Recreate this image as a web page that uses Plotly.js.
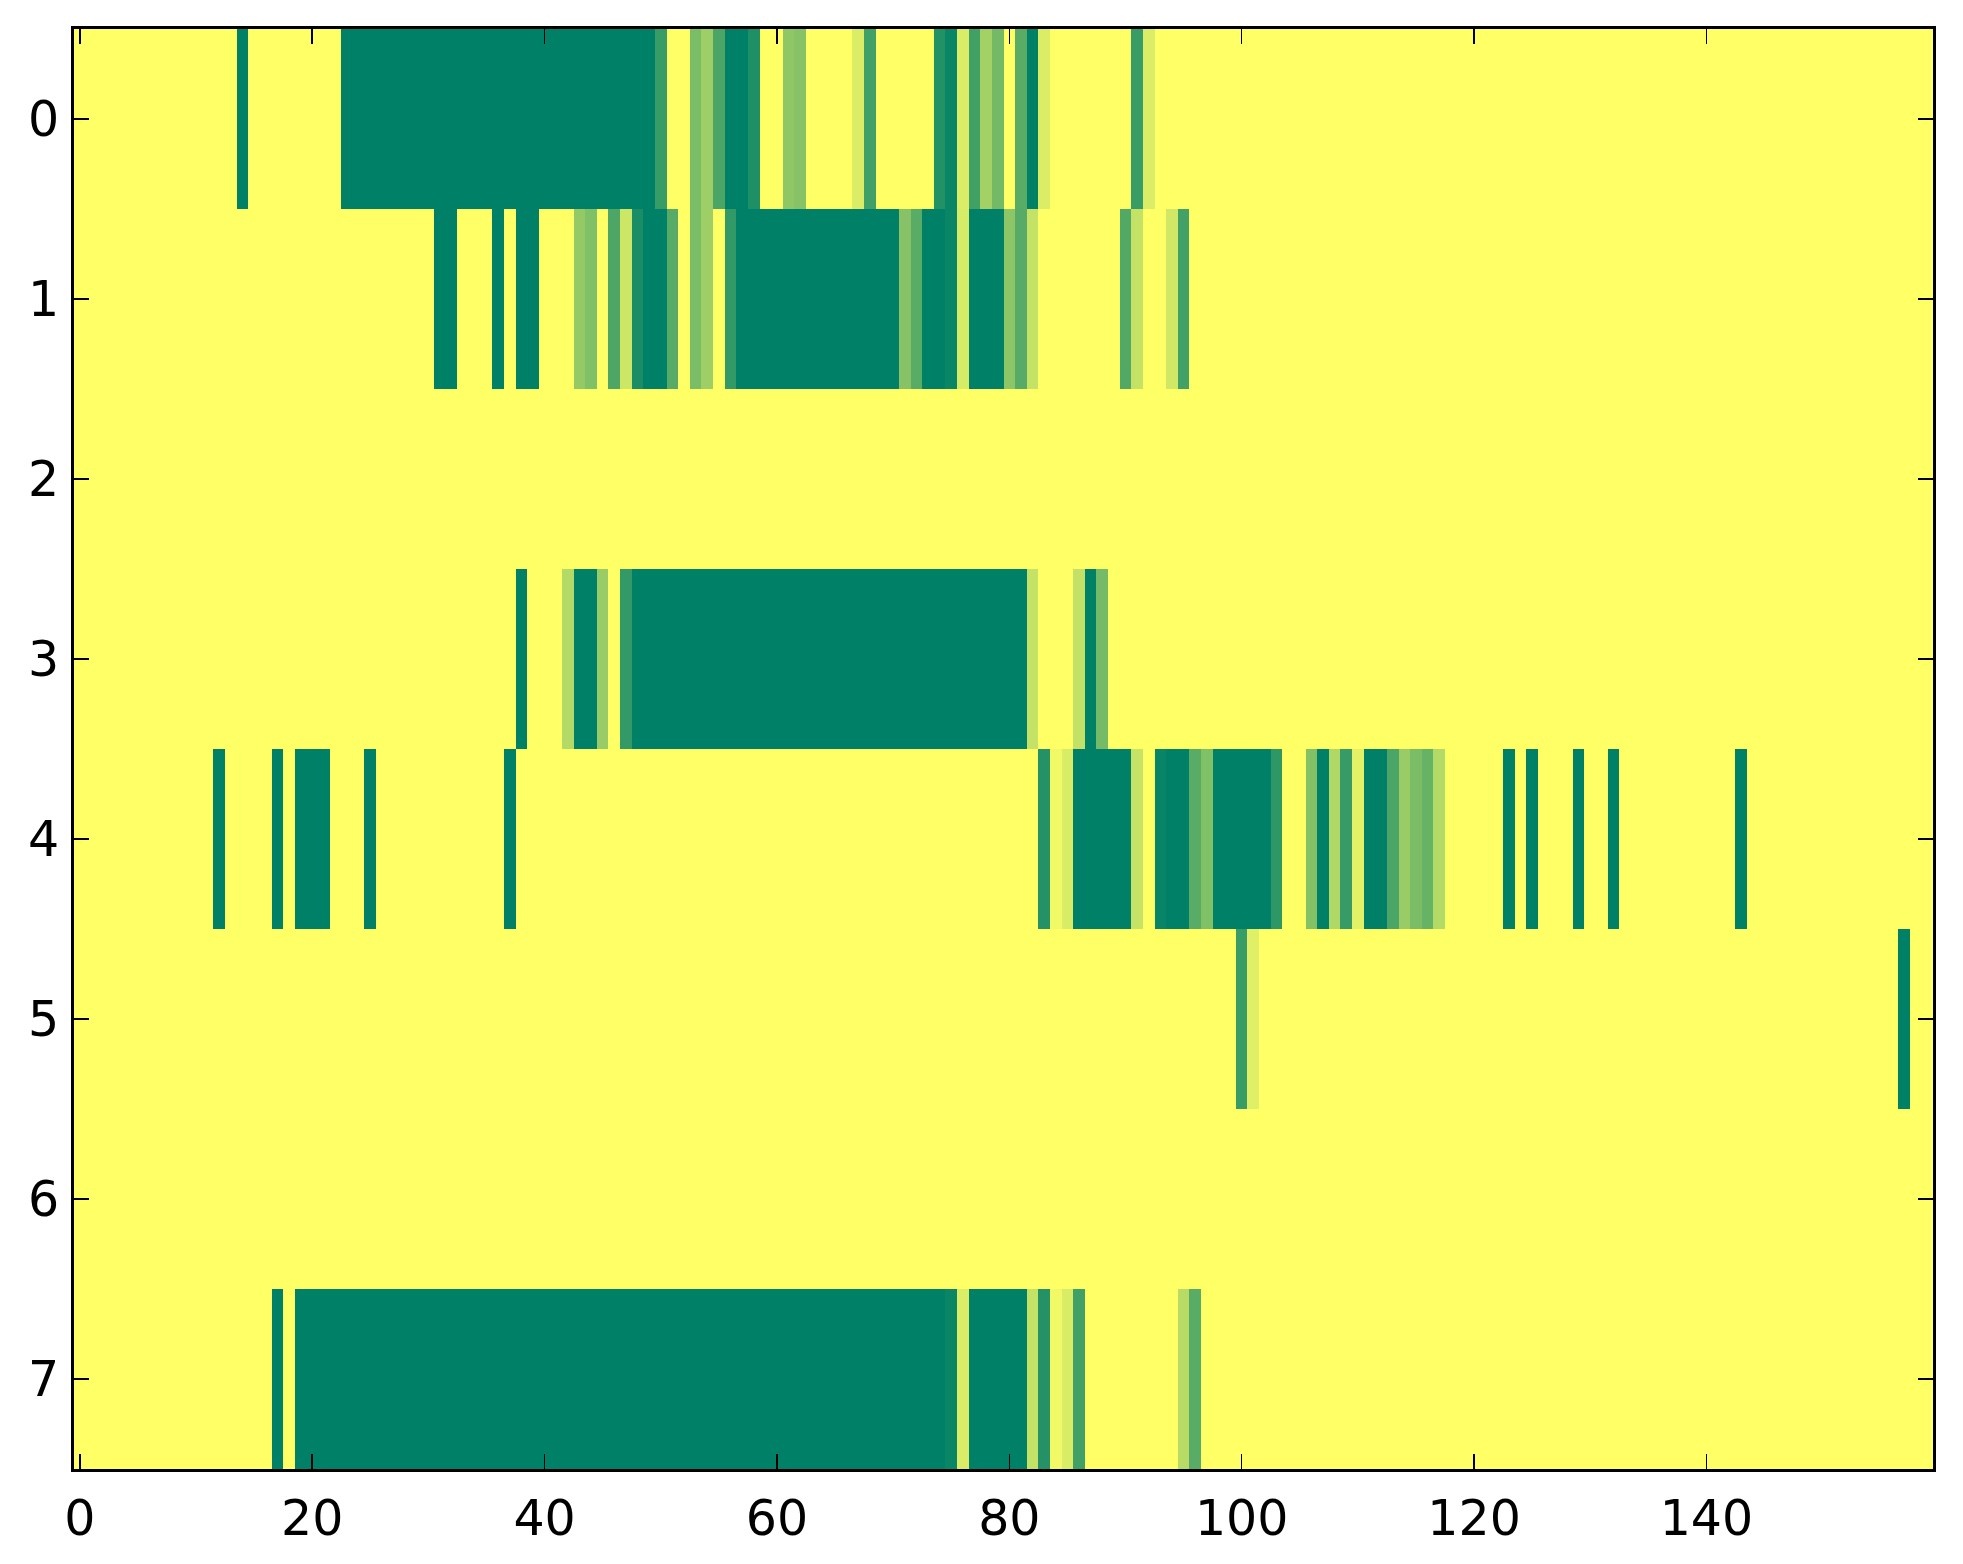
<!DOCTYPE html>
<html>
<head>
<meta charset="utf-8">
<script src="https://cdn.plot.ly/plotly-3.0.1.min.js"></script>
<style>
  html, body { margin: 0; padding: 0; background: #ffffff; }
  #chart { width: 1963px; height: 1564px; }
</style>
</head>
<body>
<div id="chart"></div>
<script>
// Column indices (0..159) and row indices (0..7)
const nColumns = 160;
const rowLabels = [0, 1, 2, 3, 4, 5, 6, 7];
const xTickVals = [0, 20, 40, 60, 80, 100, 120, 140];
const yTickVals = [0, 1, 2, 3, 4, 5, 6, 7];

// Each row: runs of [firstColumn, lastColumn, value]
// (value 0 = dark green, 1 = yellow, 'summer' colormap)
const row0 = [[0,13,1],[14,14,0],[15,22,1],[23,49,0],[50,50,0.22],[51,52,1],[53,53,0.48],[54,54,0.62],[55,55,0.29],[56,57,0],[58,58,0.12],[59,60,1],[61,61,0.56],[62,62,0.53],[63,66,1],[67,67,0.86],[68,68,0.25],[69,73,1],[74,74,0.13],[75,75,0.04],[76,76,0.86],[77,77,0.25],[78,78,0.64],[79,79,0.45],[80,80,1],[81,81,0.35],[82,82,0],[83,83,0.86],[84,90,1],[91,91,0.22],[92,92,0.86],[93,159,1]];
const row1 = [[0,30,1],[31,32,0],[33,35,1],[36,36,0],[37,37,1],[38,39,0],[40,42,1],[43,43,0.58],[44,44,0.5],[45,45,1],[46,46,0.3],[47,47,0.8],[48,48,0.1],[49,50,0],[51,51,0.34],[52,52,1],[53,53,0.48],[54,54,0.62],[55,55,1],[56,56,0.2],[57,70,0],[71,71,0.53],[72,72,0.35],[73,74,0],[75,75,0.04],[76,76,0.84],[77,79,0],[80,80,0.55],[81,81,0.34],[82,82,0.77],[83,89,1],[90,90,0.32],[91,91,0.77],[92,93,1],[94,94,0.82],[95,95,0.26],[96,159,1]];
const row2 = [[0,159,1]];
const row3 = [[0,37,1],[38,38,0],[39,41,1],[42,42,0.7],[43,44,0],[45,45,0.6],[46,46,1],[47,47,0.2],[48,81,0],[82,82,0.77],[83,85,1],[86,86,0.76],[87,87,0],[88,88,0.46],[89,159,1]];
const row4 = [[0,11,1],[12,12,0],[13,16,1],[17,17,0],[18,18,1],[19,21,0],[22,24,1],[25,25,0],[26,36,1],[37,37,0],[38,82,1],[83,83,0.14],[84,84,0.95],[85,85,0.85],[86,90,0],[91,91,0.78],[92,92,1],[93,93,0.03],[94,95,0],[96,96,0.35],[97,97,0.5],[98,102,0],[103,103,0.18],[104,105,1],[106,106,0.51],[107,107,0],[108,108,0.69],[109,109,0.21],[110,110,0.89],[111,112,0],[113,113,0.29],[114,114,0.6],[115,115,0.48],[116,116,0.4],[117,117,0.7],[118,122,1],[123,123,0],[124,124,1],[125,125,0],[126,128,1],[129,129,0],[130,131,1],[132,132,0],[133,142,1],[143,143,0],[144,159,1]];
const row5 = [[0,99,1],[100,100,0.22],[101,101,0.88],[102,156,1],[157,157,0],[158,159,1]];
const row6 = [[0,159,1]];
const row7 = [[0,16,1],[17,17,0],[18,18,1],[19,74,0],[75,75,0.04],[76,76,0.86],[77,81,0],[82,82,0.77],[83,83,0.14],[84,84,0.95],[85,85,0.85],[86,86,0.25],[87,94,1],[95,95,0.72],[96,96,0.35],[97,159,1]];

const rowRuns = [row0, row1, row2, row3, row4, row5, row6, row7];

// Decode runs into the z matrix
function decodeRuns(runs) {
  const out = new Array(nColumns).fill(null);
  runs.forEach(([a, b, v]) => { for (let c = a; c <= b; c++) out[c] = v; });
  return out;
}
const z = rowRuns.map(decodeRuns);
const xCols = Array.from({length: nColumns}, (_, i) => i);

const summer = [[0, 'rgb(0,128,102)'], [1, 'rgb(255,255,102)']];

const trace = {
  type: 'heatmap',
  x: xCols,
  y: rowLabels,
  z: z,
  zmin: 0,
  zmax: 1,
  colorscale: summer,
  showscale: false,
  zsmooth: false,
  hoverinfo: 'x+y+z'
};

const fontFamily = 'DejaVu Sans, Liberation Sans, sans-serif';
const axisCommon = {
  showgrid: false,
  zeroline: false,
  showline: true,
  linecolor: '#000000',
  linewidth: 3,
  mirror: 'ticks',
  ticks: 'inside',
  ticklen: 15,
  tickwidth: 1.5,
  tickcolor: '#000000',
  tickfont: {family: fontFamily, size: 49, color: '#000000'},
  fixedrange: true
};

const layout = {
  width: 1963,
  height: 1564,
  margin: {l: 74, r: 30, t: 29, b: 95, pad: 0},
  paper_bgcolor: '#ffffff',
  plot_bgcolor: '#ffffff',
  showlegend: false,
  xaxis: Object.assign({}, axisCommon, {
    range: [-0.5, 159.5],
    tickmode: 'array',
    tickvals: xTickVals,
    ticktext: xTickVals.map(String),
    ticklabelstandoff: 4
  }),
  yaxis: Object.assign({}, axisCommon, {
    range: [7.5, -0.5],
    tickmode: 'array',
    tickvals: yTickVals,
    ticktext: yTickVals.map(String),
    ticklabelstandoff: 2
  })
};

Plotly.newPlot('chart', [trace], layout, {displayModeBar: false, staticPlot: true});
</script>
</body>
</html>
